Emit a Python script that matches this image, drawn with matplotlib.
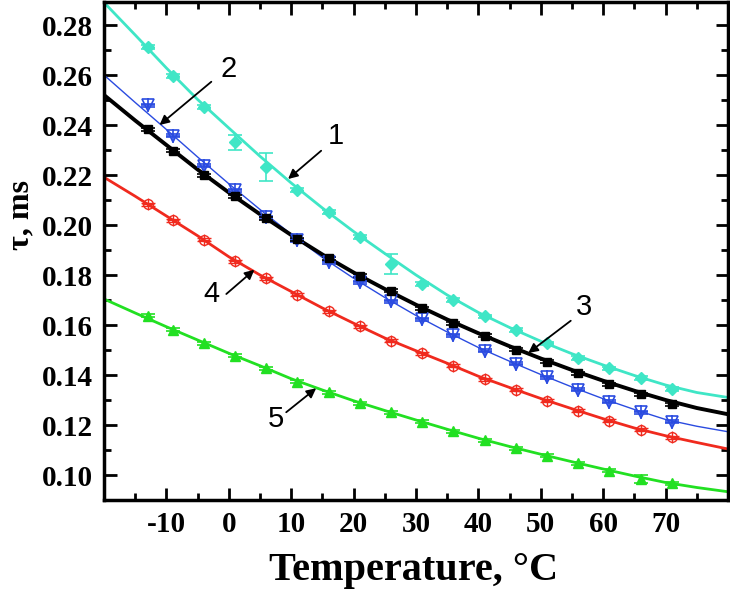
import matplotlib
matplotlib.use('Agg')
import matplotlib.pyplot as plt
from matplotlib.ticker import MultipleLocator

# Measured points
T = [-13, -9, -4, 1, 6, 11, 16, 21, 26, 31, 36, 41, 46, 51, 56, 61, 66, 71]
tau1 = [0.2712, 0.2596, 0.2472, 0.2331, 0.2232, 0.2141, 0.2052, 0.1952, 0.1844,
        0.1764, 0.1700, 0.1635, 0.1580, 0.1527, 0.1468, 0.1427, 0.1388, 0.1344]
err1 = [0.0007, 0.0007, 0.0007, 0.0030, 0.0055, 0.0007, 0.0007, 0.0007, 0.0040,
        0.0007, 0.0007, 0.0007, 0.0007, 0.0007, 0.0007, 0.0007, 0.0007, 0.0007]
tau2 = [0.2480, 0.2357, 0.2237, 0.2139, 0.2031, 0.1940, 0.1851, 0.1771, 0.1695,
        0.1624, 0.1560, 0.1497, 0.1446, 0.1391, 0.1341, 0.1293, 0.1251, 0.1213]
tau3 = [0.2384, 0.2297, 0.2200, 0.2115, 0.2027, 0.1944, 0.1868, 0.1797, 0.1737,
        0.1667, 0.1608, 0.1557, 0.1502, 0.1454, 0.1408, 0.1364, 0.1324, 0.1284]
tau4 = [0.2084, 0.2020, 0.1941, 0.1855, 0.1788, 0.1721, 0.1655, 0.1595, 0.1537,
        0.1488, 0.1437, 0.1384, 0.1341, 0.1297, 0.1257, 0.1217, 0.1181, 0.1151]
tau5 = [0.1637, 0.1581, 0.1528, 0.1477, 0.1427, 0.1373, 0.1331, 0.1288, 0.1251,
        0.1213, 0.1175, 0.1140, 0.1108, 0.1077, 0.1048, 0.1017, 0.0984, 0.0967]
err5 = [0.0006] * 16 + [0.0015, 0.0006]
err_small = [0.0006] * 18

# Fitted curves
Tfit = [-20, -15, -10, -5, 0, 5, 10, 15, 20, 25, 30, 35, 40, 45, 50, 55, 60, 65, 70, 75, 80]
fit1 = [0.2890, 0.2760, 0.2628, 0.2502, 0.2388, 0.2275, 0.2168, 0.2068, 0.1974, 0.1886, 0.1800,
        0.1720, 0.1650, 0.1590, 0.1535, 0.1485, 0.1440, 0.1398, 0.1360, 0.1330, 0.1310]
fit2 = [0.2600, 0.2490, 0.2382, 0.2272, 0.2165, 0.2062, 0.1963, 0.1870, 0.1787, 0.1710, 0.1638,
        0.1572, 0.1510, 0.1455, 0.1402, 0.1352, 0.1305, 0.1262, 0.1222, 0.1195, 0.1173]
fit3 = [0.2520, 0.2418, 0.2320, 0.2222, 0.2130, 0.2043, 0.1960, 0.1882, 0.1810, 0.1744, 0.1681,
        0.1622, 0.1567, 0.1515, 0.1466, 0.1420, 0.1377, 0.1337, 0.1300, 0.1268, 0.1243]
fit4 = [0.2191, 0.2115, 0.2036, 0.1957, 0.1873, 0.1800, 0.1734, 0.1668, 0.1607, 0.1548, 0.1497,
        0.1447, 0.1395, 0.1350, 0.1306, 0.1265, 0.1225, 0.1188, 0.1157, 0.1130, 0.1104]
fit5 = [0.1704, 0.1648, 0.1593, 0.1540, 0.1487, 0.1437, 0.1385, 0.1340, 0.1297, 0.1258, 0.1220,
        0.1183, 0.1147, 0.1114, 0.1083, 0.1053, 0.1024, 0.0996, 0.0970, 0.0950, 0.0933]

c1, c2, c3, c4, c5 = '#3FE6C6', '#2A4BE0', '#000000', '#F02A1E', '#22E022'

labels = ['1', '2', '3', '4', '5']
label_pos = [(17.2, 0.2357), (-0.1, 0.2624), (56.9, 0.1671), (-2.8, 0.1724), (7.6, 0.1224)]
arrow_tail = [(14.8, 0.2297), (-2.8, 0.2573), (54.8, 0.1617), (-0.4, 0.1724), (9.2, 0.1251)]
arrow_tip = [(9.5, 0.2184), (-11.1, 0.2400), (48.0, 0.1488), (4.1, 0.1821), (14.0, 0.1347)]

fig = plt.figure(figsize=(7.3, 5.96), dpi=100)
ax = fig.add_axes([104 / 730, 96 / 596, 624 / 730, 498 / 596])

ax.plot(Tfit, fit1, color=c1, lw=2.0, zorder=2)
ax.plot(Tfit, fit2, color=c2, lw=1.0, zorder=2)
ax.plot(Tfit, fit3, color=c3, lw=2.8, zorder=3)
ax.plot(Tfit, fit4, color=c4, lw=2.0, zorder=2)
ax.plot(Tfit, fit5, color=c5, lw=2.0, zorder=2)

ekw = dict(ls='none', capsize=5, elinewidth=1.2, capthick=1.2, zorder=4)
ax.errorbar(T, tau1, yerr=err1, fmt='D', ms=6, color=c1, mec=c1, **ekw)
ax.errorbar(T, tau2, yerr=err_small, fmt='v', ms=8, color=c2, mfc='none', mew=1.2, **ekw)
ax.plot(T, tau2, '+', ms=10, color=c2, mew=1.2, ls='none', zorder=4)
ax.errorbar(T, tau3, yerr=err_small, fmt='s', ms=5.5, color=c3, **ekw)
ax.errorbar(T, tau4, yerr=err_small, fmt='o', ms=7, color=c4, mfc='none', mew=1.0, **ekw)
ax.plot(T, tau4, '+', ms=8, color=c4, mew=1.0, ls='none', zorder=4)
ax.errorbar(T, tau5, yerr=err5, fmt='^', ms=7, color=c5, **ekw)

for lab, (tx, ty), (ax0, ay0), (bx, by) in zip(labels, label_pos, arrow_tail, arrow_tip):
    ax.text(tx, ty, lab, fontsize=21, family='Liberation Sans', ha='center', va='center', zorder=6)
    ax.annotate('', xy=(bx, by), xytext=(ax0, ay0),
                arrowprops=dict(arrowstyle='-|>', color='black', lw=1.3,
                                mutation_scale=14, shrinkA=0, shrinkB=0), zorder=6)

ax.set_xlim(-20, 80)
ax.set_ylim(0.09, 0.2892)
ax.xaxis.set_minor_locator(MultipleLocator(5))
ax.yaxis.set_minor_locator(MultipleLocator(0.01))
ax.set_xticks([-10, 0, 10, 20, 30, 40, 50, 60, 70])
ax.set_xticklabels(['-10', '0', '10', '20', '30', '40', '50', '60', '70'])
ax.set_yticks([0.10, 0.12, 0.14, 0.16, 0.18, 0.20, 0.22, 0.24, 0.26, 0.28])
ax.set_yticklabels(['0.10', '0.12', '0.14', '0.16', '0.18', '0.20', '0.22', '0.24', '0.26', '0.28'])

ax.tick_params(which='both', direction='in', top=True, right=True, width=2)
ax.tick_params(which='major', length=9, labelsize=21, pad=8)
ax.tick_params(which='minor', length=5)
for lab in ax.get_xticklabels() + ax.get_yticklabels():
    lab.set_family('Liberation Serif')
    lab.set_fontweight('bold')
for s in ax.spines.values():
    s.set_linewidth(2.5)

fig.text(414 / 730, 1 - 580 / 596, 'Temperature, °C', fontsize=29, family='Liberation Serif',
         fontweight='bold', ha='center', va='baseline')
fig.text(21 / 730, 1 - 215 / 596, 'τ, ms', fontsize=23, family='Liberation Serif',
         fontweight='bold', ha='center', va='center', rotation=90)

fig.savefig('out.png', dpi=100)
